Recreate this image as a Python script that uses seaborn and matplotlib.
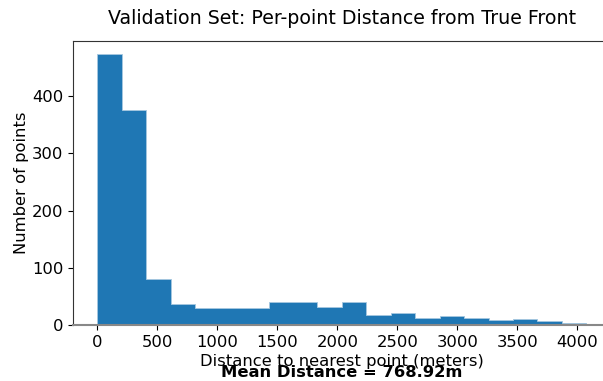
import numpy as np
import pandas as pd
import matplotlib
matplotlib.use("Agg")
import matplotlib.pyplot as plt
import seaborn as sns

# Histogram counts (20 equal-width bins)
counts = [473, 375, 80, 36, 29, 29, 29, 40, 40, 32, 40, 17, 21, 12, 15, 12, 9, 11, 7, 4]
bin_start = 0.0
bin_end = 4075.0
mean_distance = 768.92

n_bins = len(counts)
edges = np.linspace(bin_start, bin_end, n_bins + 1)
centers = (edges[:-1] + edges[1:]) / 2
df = pd.DataFrame({"distance": centers, "count": counts})

plt.rcParams['font.family'] = ['DejaVu Sans']
fig = plt.figure(figsize=(6.03, 3.81), dpi=100)
ax = fig.add_axes([0.121, 0.147, 0.892, 0.745])
sns.histplot(data=df, x="distance", weights="count", bins=n_bins,
             binrange=(bin_start, bin_end), ax=ax, element="step",
             color="#1f77b4", alpha=1.0, edgecolor="#a6c8e0", linewidth=0.6)
ax.set_xlim(-204, 4279)
ax.set_ylim(0, 496)
ax.set_xticks([0, 500, 1000, 1500, 2000, 2500, 3000, 3500, 4000])
ax.set_yticks([0, 100, 200, 300, 400])
ax.tick_params(labelsize=11.75)
ax.set_xlabel("Distance to nearest point (meters)", fontsize=11.75, labelpad=3)
ax.set_ylabel("Number of points", fontsize=11.75, labelpad=2)
ax.set_title("Validation Set: Per-point Distance from True Front", fontsize=13.7, pad=12)
for s in ax.spines.values():
    s.set_color("#333333")
ax.spines['bottom'].set_color("#888888")
ax.spines['bottom'].set_linewidth(1.5)
fig.text(0.567, 0.01, f"Mean Distance = {mean_distance}m", ha="center",
         fontsize=11.75, fontweight="bold")
fig.savefig("out.png", dpi=100)
